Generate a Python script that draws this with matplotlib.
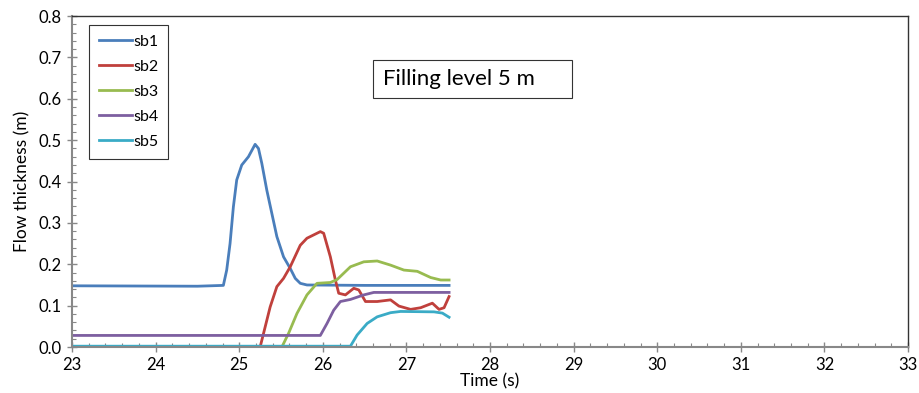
import numpy as np
import matplotlib
matplotlib.use("Agg")
import matplotlib.pyplot as plt
from matplotlib.ticker import MultipleLocator, FormatStrFormatter
from matplotlib.patches import Rectangle

plt.rcParams['font.family'] = ['Lato', 'DejaVu Sans']

# values (time in s, thickness in m)
t_sb1 = [23.0, 24.5, 24.81, 24.85, 24.89, 24.93, 24.97, 25.03, 25.11, 25.19, 25.23, 25.27, 25.33, 25.39, 25.45,
         25.53, 25.61, 25.67, 25.73, 25.81, 26.5, 27.51]
h_sb1 = [0.148, 0.147, 0.149, 0.186, 0.25, 0.339, 0.404, 0.44, 0.46, 0.49, 0.48, 0.444, 0.379, 0.323, 0.267,
         0.218, 0.19, 0.166, 0.154, 0.15, 0.149, 0.149]

t_sb2 = [23.0, 25.25, 25.37, 25.45, 25.53, 25.61, 25.73, 25.81, 25.97, 26.01, 26.09, 26.15, 26.19, 26.27, 26.37,
         26.43, 26.51, 26.65, 26.81, 26.91, 27.05, 27.17, 27.31, 27.39, 27.45, 27.51]
h_sb2 = [0.0, 0.0, 0.097, 0.146, 0.166, 0.194, 0.246, 0.263, 0.279, 0.275, 0.218, 0.162, 0.13, 0.126, 0.142,
         0.138, 0.11, 0.11, 0.114, 0.099, 0.091, 0.095, 0.106, 0.091, 0.095, 0.122]

t_sb3 = [23.0, 25.51, 25.59, 25.69, 25.81, 25.93, 26.09, 26.17, 26.33, 26.49, 26.65, 26.81, 26.97, 27.13, 27.29,
         27.41, 27.51]
h_sb3 = [0.0, 0.0, 0.033, 0.081, 0.126, 0.154, 0.156, 0.163, 0.194, 0.206, 0.208, 0.198, 0.186, 0.183, 0.168,
         0.162, 0.162]

t_sb4 = [23.0, 25.97, 26.05, 26.13, 26.21, 26.33, 26.49, 26.61, 27.51]
h_sb4 = [0.028, 0.028, 0.057, 0.089, 0.11, 0.115, 0.126, 0.132, 0.132]

t_sb5 = [23.0, 26.33, 26.41, 26.53, 26.65, 26.81, 26.93, 27.33, 27.43, 27.51]
h_sb5 = [0.002, 0.002, 0.029, 0.057, 0.073, 0.083, 0.086, 0.085, 0.082, 0.072]

series = [("sb1", t_sb1, h_sb1, "#4a7ebb"),
          ("sb2", t_sb2, h_sb2, "#c0403c"),
          ("sb3", t_sb3, h_sb3, "#98bb50"),
          ("sb4", t_sb4, h_sb4, "#7d5fa0"),
          ("sb5", t_sb5, h_sb5, "#3aabc6")]

fig, ax = plt.subplots(figsize=(9.2, 3.93), dpi=100)
fig.subplots_adjust(left=0.0783, right=0.987, bottom=0.117, top=0.959)

for name, t, h, c in series:
    ax.plot(t, h, color=c, lw=2, label=name, solid_joinstyle='round')

ax.set_xlim(23, 33)
ax.set_ylim(0, 0.8)
ax.xaxis.set_major_locator(MultipleLocator(1))
ax.xaxis.set_minor_locator(MultipleLocator(0.2))
ax.yaxis.set_major_locator(MultipleLocator(0.1))
ax.yaxis.set_minor_locator(MultipleLocator(0.02))
ax.yaxis.set_major_formatter(FormatStrFormatter('%.1f'))
ax.tick_params(which='major', direction='inout', length=7, width=1, color='#888888',
               labelsize=12, pad=4)
ax.tick_params(which='minor', direction='in', length=3, width=0.8, color='#888888')

for s in ['left', 'bottom']:
    ax.spines[s].set_color('#888888')
    ax.spines[s].set_linewidth(1.5)
for s in ['top', 'right']:
    ax.spines[s].set_color('#333333')
    ax.spines[s].set_linewidth(1)

ax.set_xlabel("Time (s)", fontsize=12.5, labelpad=0)
ax.set_ylabel("Flow thickness (m)", fontsize=12.5, labelpad=6)

leg = ax.legend(loc='upper left', bbox_to_anchor=(0.0203, 0.973), fontsize=11.5,
                handlelength=2.1, handletextpad=0.05, labelspacing=0.68,
                fancybox=False, edgecolor='#333333', framealpha=1,
                borderpad=0.6, borderaxespad=0)
leg.get_frame().set_linewidth(0.8)

ax.add_patch(Rectangle((0.360, 0.752), 0.238, 0.115, transform=ax.transAxes,
                       fc='white', ec='#333333', lw=0.8, zorder=5))
ax.text(0.372, 0.810, "Filling level 5 m", transform=ax.transAxes, fontsize=16,
        ha='left', va='center', zorder=6)

fig.savefig("out.png", dpi=100)
